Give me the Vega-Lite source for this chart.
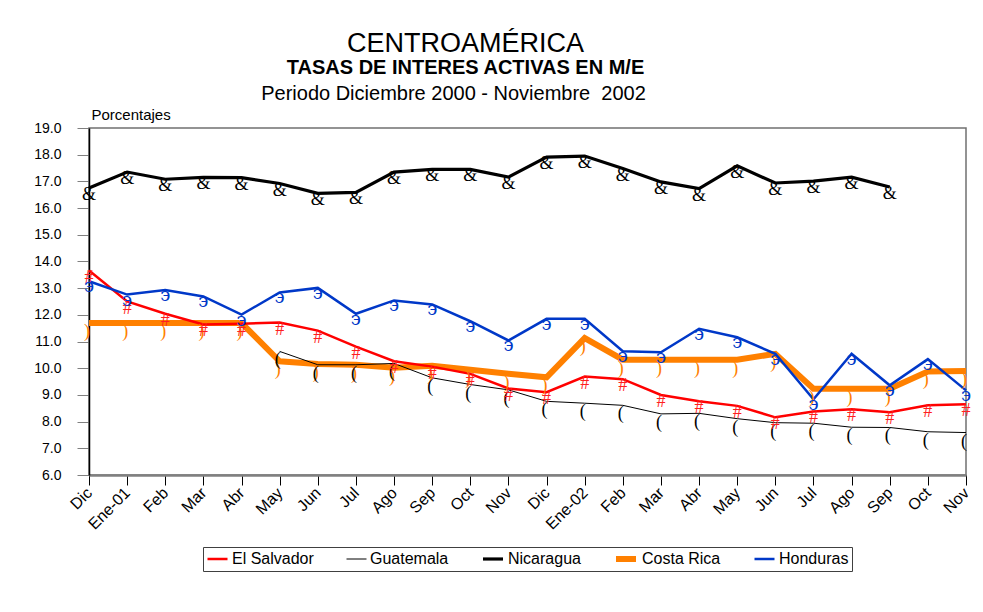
{
  "$schema": "https://vega.github.io/schema/vega-lite/v6.json",
  "width": 877,
  "height": 347,
  "autosize": {"type": "none"},
  "padding": {"left": 89, "top": 128, "right": 17, "bottom": 137},
  "background": "white",
  "config": {
    "font": "Liberation Sans",
    "view": {"stroke": "#707070", "strokeWidth": 1.5}
  },
  "title": {
    "text": "CENTROAMÉRICA",
    "subtitle": "TASAS DE INTERES ACTIVAS EN M/E",
    "fontSize": 27,
    "fontWeight": "normal",
    "color": "black",
    "subtitleFontSize": 20,
    "subtitleFontWeight": "bold",
    "subtitleColor": "black",
    "subtitleFont": "Liberation Sans",
    "anchor": "middle",
    "dx": -62,
    "subtitlePadding": 0,
    "offset": 4
  },
  "data": {
    "values": [
      {"pais": "Costa Rica", "mes": "Dic-00", "tasa": 11.69},
      {"pais": "Costa Rica", "mes": "Ene-01", "tasa": 11.69},
      {"pais": "Costa Rica", "mes": "Feb-01", "tasa": 11.69},
      {"pais": "Costa Rica", "mes": "Mar-01", "tasa": 11.69},
      {"pais": "Costa Rica", "mes": "Abr-01", "tasa": 11.69},
      {"pais": "Costa Rica", "mes": "May-01", "tasa": 10.26},
      {"pais": "Costa Rica", "mes": "Jun-01", "tasa": 10.16},
      {"pais": "Costa Rica", "mes": "Jul-01", "tasa": 10.13},
      {"pais": "Costa Rica", "mes": "Ago-01", "tasa": 10.02},
      {"pais": "Costa Rica", "mes": "Sep-01", "tasa": 10.09},
      {"pais": "Costa Rica", "mes": "Oct-01", "tasa": 9.94},
      {"pais": "Costa Rica", "mes": "Nov-01", "tasa": 9.79},
      {"pais": "Costa Rica", "mes": "Dic-01", "tasa": 9.66},
      {"pais": "Costa Rica", "mes": "Ene-02", "tasa": 11.13},
      {"pais": "Costa Rica", "mes": "Feb-02", "tasa": 10.32},
      {"pais": "Costa Rica", "mes": "Mar-02", "tasa": 10.32},
      {"pais": "Costa Rica", "mes": "Abr-02", "tasa": 10.32},
      {"pais": "Costa Rica", "mes": "May-02", "tasa": 10.32},
      {"pais": "Costa Rica", "mes": "Jun-02", "tasa": 10.54},
      {"pais": "Costa Rica", "mes": "Jul-02", "tasa": 9.23},
      {"pais": "Costa Rica", "mes": "Ago-02", "tasa": 9.23},
      {"pais": "Costa Rica", "mes": "Sep-02", "tasa": 9.23},
      {"pais": "Costa Rica", "mes": "Oct-02", "tasa": 9.88},
      {"pais": "Costa Rica", "mes": "Nov-02", "tasa": 9.9},

      {"pais": "Guatemala", "mes": "May-01", "tasa": 10.63},
      {"pais": "Guatemala", "mes": "Jun-01", "tasa": 10.13},
      {"pais": "Guatemala", "mes": "Jul-01", "tasa": 10.13},
      {"pais": "Guatemala", "mes": "Ago-01", "tasa": 10.18},
      {"pais": "Guatemala", "mes": "Sep-01", "tasa": 9.64},
      {"pais": "Guatemala", "mes": "Oct-01", "tasa": 9.39},
      {"pais": "Guatemala", "mes": "Nov-01", "tasa": 9.19},
      {"pais": "Guatemala", "mes": "Dic-01", "tasa": 8.76},
      {"pais": "Guatemala", "mes": "Ene-02", "tasa": 8.69},
      {"pais": "Guatemala", "mes": "Feb-02", "tasa": 8.61},
      {"pais": "Guatemala", "mes": "Mar-02", "tasa": 8.29},
      {"pais": "Guatemala", "mes": "Abr-02", "tasa": 8.31},
      {"pais": "Guatemala", "mes": "May-02", "tasa": 8.11},
      {"pais": "Guatemala", "mes": "Jun-02", "tasa": 7.96},
      {"pais": "Guatemala", "mes": "Jul-02", "tasa": 7.94},
      {"pais": "Guatemala", "mes": "Ago-02", "tasa": 7.79},
      {"pais": "Guatemala", "mes": "Sep-02", "tasa": 7.78},
      {"pais": "Guatemala", "mes": "Oct-02", "tasa": 7.62},
      {"pais": "Guatemala", "mes": "Nov-02", "tasa": 7.59},

      {"pais": "El Salvador", "mes": "Dic-00", "tasa": 13.66},
      {"pais": "El Salvador", "mes": "Ene-01", "tasa": 12.5},
      {"pais": "El Salvador", "mes": "Feb-01", "tasa": 12.04},
      {"pais": "El Salvador", "mes": "Mar-01", "tasa": 11.64},
      {"pais": "El Salvador", "mes": "Abr-01", "tasa": 11.67},
      {"pais": "El Salvador", "mes": "May-01", "tasa": 11.71},
      {"pais": "El Salvador", "mes": "Jun-01", "tasa": 11.41},
      {"pais": "El Salvador", "mes": "Jul-01", "tasa": 10.81},
      {"pais": "El Salvador", "mes": "Ago-01", "tasa": 10.26},
      {"pais": "El Salvador", "mes": "Sep-01", "tasa": 10.06},
      {"pais": "El Salvador", "mes": "Oct-01", "tasa": 9.79},
      {"pais": "El Salvador", "mes": "Nov-01", "tasa": 9.24},
      {"pais": "El Salvador", "mes": "Dic-01", "tasa": 9.1},
      {"pais": "El Salvador", "mes": "Ene-02", "tasa": 9.69},
      {"pais": "El Salvador", "mes": "Feb-02", "tasa": 9.59},
      {"pais": "El Salvador", "mes": "Mar-02", "tasa": 9.0},
      {"pais": "El Salvador", "mes": "Abr-02", "tasa": 8.76},
      {"pais": "El Salvador", "mes": "May-02", "tasa": 8.59},
      {"pais": "El Salvador", "mes": "Jun-02", "tasa": 8.16},
      {"pais": "El Salvador", "mes": "Jul-02", "tasa": 8.38},
      {"pais": "El Salvador", "mes": "Ago-02", "tasa": 8.46},
      {"pais": "El Salvador", "mes": "Sep-02", "tasa": 8.35},
      {"pais": "El Salvador", "mes": "Oct-02", "tasa": 8.61},
      {"pais": "El Salvador", "mes": "Nov-02", "tasa": 8.65},

      {"pais": "Nicaragua", "mes": "Dic-00", "tasa": 16.75},
      {"pais": "Nicaragua", "mes": "Ene-01", "tasa": 17.35},
      {"pais": "Nicaragua", "mes": "Feb-01", "tasa": 17.08},
      {"pais": "Nicaragua", "mes": "Mar-01", "tasa": 17.15},
      {"pais": "Nicaragua", "mes": "Abr-01", "tasa": 17.14},
      {"pais": "Nicaragua", "mes": "May-01", "tasa": 16.92},
      {"pais": "Nicaragua", "mes": "Jun-01", "tasa": 16.55},
      {"pais": "Nicaragua", "mes": "Jul-01", "tasa": 16.59},
      {"pais": "Nicaragua", "mes": "Ago-01", "tasa": 17.35},
      {"pais": "Nicaragua", "mes": "Sep-01", "tasa": 17.45},
      {"pais": "Nicaragua", "mes": "Oct-01", "tasa": 17.45},
      {"pais": "Nicaragua", "mes": "Nov-01", "tasa": 17.16},
      {"pais": "Nicaragua", "mes": "Dic-01", "tasa": 17.91},
      {"pais": "Nicaragua", "mes": "Ene-02", "tasa": 17.95},
      {"pais": "Nicaragua", "mes": "Feb-02", "tasa": 17.48},
      {"pais": "Nicaragua", "mes": "Mar-02", "tasa": 16.98},
      {"pais": "Nicaragua", "mes": "Abr-02", "tasa": 16.73},
      {"pais": "Nicaragua", "mes": "May-02", "tasa": 17.58},
      {"pais": "Nicaragua", "mes": "Jun-02", "tasa": 16.94},
      {"pais": "Nicaragua", "mes": "Jul-02", "tasa": 17.01},
      {"pais": "Nicaragua", "mes": "Ago-02", "tasa": 17.16},
      {"pais": "Nicaragua", "mes": "Sep-02", "tasa": 16.79},

      {"pais": "Honduras", "mes": "Dic-00", "tasa": 13.26},
      {"pais": "Honduras", "mes": "Ene-01", "tasa": 12.76},
      {"pais": "Honduras", "mes": "Feb-01", "tasa": 12.93},
      {"pais": "Honduras", "mes": "Mar-01", "tasa": 12.69},
      {"pais": "Honduras", "mes": "Abr-01", "tasa": 12.01},
      {"pais": "Honduras", "mes": "May-01", "tasa": 12.84},
      {"pais": "Honduras", "mes": "Jun-01", "tasa": 13.01},
      {"pais": "Honduras", "mes": "Jul-01", "tasa": 12.04},
      {"pais": "Honduras", "mes": "Ago-01", "tasa": 12.54},
      {"pais": "Honduras", "mes": "Sep-01", "tasa": 12.39},
      {"pais": "Honduras", "mes": "Oct-01", "tasa": 11.76},
      {"pais": "Honduras", "mes": "Nov-01", "tasa": 11.04},
      {"pais": "Honduras", "mes": "Dic-01", "tasa": 11.85},
      {"pais": "Honduras", "mes": "Ene-02", "tasa": 11.85},
      {"pais": "Honduras", "mes": "Feb-02", "tasa": 10.64},
      {"pais": "Honduras", "mes": "Mar-02", "tasa": 10.6},
      {"pais": "Honduras", "mes": "Abr-02", "tasa": 11.48},
      {"pais": "Honduras", "mes": "May-02", "tasa": 11.16},
      {"pais": "Honduras", "mes": "Jun-02", "tasa": 10.54},
      {"pais": "Honduras", "mes": "Jul-02", "tasa": 8.84},
      {"pais": "Honduras", "mes": "Ago-02", "tasa": 10.54},
      {"pais": "Honduras", "mes": "Sep-02", "tasa": 9.36},
      {"pais": "Honduras", "mes": "Oct-02", "tasa": 10.34},
      {"pais": "Honduras", "mes": "Nov-02", "tasa": 9.17}
    ]
  },
  "resolve": {"axis": {"x": "independent", "y": "independent"}},
  "layer": [
    {
      "mark": {"type": "line", "strokeJoin": "miter"},
      "encoding": {
        "x": {
          "field": "mes", "type": "ordinal",
          "scale": {"type": "point", "padding": 0, "domain": ["Dic-00","Ene-01","Feb-01","Mar-01","Abr-01","May-01","Jun-01","Jul-01","Ago-01","Sep-01","Oct-01","Nov-01","Dic-01","Ene-02","Feb-02","Mar-02","Abr-02","May-02","Jun-02","Jul-02","Ago-02","Sep-02","Oct-02","Nov-02"]},
          "axis": {
            "orient": "bottom", "title": null, "labelAngle": -45, "labelAlign": "right", "labelBaseline": "middle",
            "labelFontSize": 16, "labelColor": "black", "labelPadding": 5, "tickSize": 10, "tickColor": "black",
            "domainColor": "#808080", "domainWidth": 2.5, "grid": false, "labelOverlap": false,
            "labelExpr": "indexof(datum.value, 'Ene') == 0 ? datum.value : slice(datum.value, 0, 3)"
          }
        },
        "y": {
          "field": "tasa", "type": "quantitative",
          "scale": {"domain": [6, 19], "zero": false, "nice": false},
          "axis": {
            "values": [6,7,8,9,10,11,12,13,14,15,16,17,18,19], "format": ".1f", "grid": false, "labelOverlap": false,
            "title": "Porcentajes", "titleAngle": 0, "titleAlign": "left", "titleBaseline": "alphabetic",
            "titleX": 2, "titleY": -9, "titleFontSize": 15, "titleFontWeight": "normal", "titleColor": "black",
            "labelFontSize": 14, "labelColor": "black", "labelPadding": 16, "tickSize": 12, "tickColor": "#808080",
            "domainColor": "black", "domainWidth": 1.5
          }
        },
        "color": {
          "field": "pais", "type": "nominal",
          "scale": {"domain": ["El Salvador", "Guatemala", "Nicaragua", "Costa Rica", "Honduras"], "range": ["#FF0000", "#000000", "#000000", "#FF8000", "#0038C8"]},
          "legend": {"title": null, "orient": "none", "legendX": 114, "legendY": 419, "direction": "horizontal", "symbolType": "stroke", "symbolSize": 400, "clipHeight": 18, "labelFontSize": 16, "labelColor": "black", "strokeColor": "#404040", "fillColor": "white", "padding": 3, "columnPadding": 32, "labelOffset": 3}
        },
        "strokeWidth": {
          "field": "pais", "type": "nominal",
          "scale": {"type": "ordinal", "domain": ["El Salvador", "Guatemala", "Nicaragua", "Costa Rica", "Honduras"], "range": [2.5, 1, 3.2, 6, 2.5]},
          "legend": {"title": null, "orient": "none", "legendX": 114, "legendY": 419, "direction": "horizontal", "symbolType": "stroke", "symbolSize": 400, "clipHeight": 18, "labelFontSize": 16, "labelColor": "black", "strokeColor": "#404040", "fillColor": "white", "padding": 3, "columnPadding": 32, "labelOffset": 3}
        }
      }
    },
    {
      "transform": [{"filter": "datum.pais == 'Costa Rica'"}],
      "mark": {"type": "text", "text": ")", "font": "Liberation Serif", "fontSize": 18, "color": "#FF8000", "dy": 9, "dx": -2, "baseline": "middle"},
      "encoding": {
        "x": {"field": "mes", "type": "ordinal", "axis": null},
        "y": {"field": "tasa", "type": "quantitative", "axis": null}
      }
    },
    {
      "transform": [{"filter": "datum.pais == 'Guatemala'"}],
      "mark": {"type": "text", "text": "(", "font": "Liberation Serif", "fontSize": 18, "color": "black", "dy": 9, "dx": -2, "baseline": "middle"},
      "encoding": {
        "x": {"field": "mes", "type": "ordinal", "axis": null},
        "y": {"field": "tasa", "type": "quantitative", "axis": null}
      }
    },
    {
      "transform": [{"filter": "datum.pais == 'El Salvador'"}],
      "mark": {"type": "text", "text": "#", "font": "Liberation Serif", "fontSize": 18, "color": "#FF2020", "dy": 7, "baseline": "middle"},
      "encoding": {
        "x": {"field": "mes", "type": "ordinal", "axis": null},
        "y": {"field": "tasa", "type": "quantitative", "axis": null}
      }
    },
    {
      "transform": [{"filter": "datum.pais == 'Nicaragua'"}],
      "mark": {"type": "text", "text": "&", "font": "Liberation Serif", "fontSize": 18, "color": "black", "dy": 7, "baseline": "middle"},
      "encoding": {
        "x": {"field": "mes", "type": "ordinal", "axis": null},
        "y": {"field": "tasa", "type": "quantitative", "axis": null}
      }
    },
    {
      "transform": [{"filter": "datum.pais == 'Honduras'"}],
      "mark": {"type": "text", "text": "϶", "font": "DejaVu Serif", "fontSize": 18, "color": "#0038C8", "dy": 6, "baseline": "middle"},
      "encoding": {
        "x": {
          "field": "mes", "type": "ordinal",
          "axis": {
            "orient": "top", "title": "Periodo Diciembre 2000 - Noviembre \u00a02002",
            "labels": false, "ticks": false, "domain": false, "grid": false,
            "titleFontSize": 20, "titleFontWeight": "normal", "titleColor": "black",
            "titleX": 364, "titleY": -29, "titleAlign": "center", "titleBaseline": "alphabetic"
          }
        },
        "y": {"field": "tasa", "type": "quantitative", "axis": null}
      }
    }
  ]
}
